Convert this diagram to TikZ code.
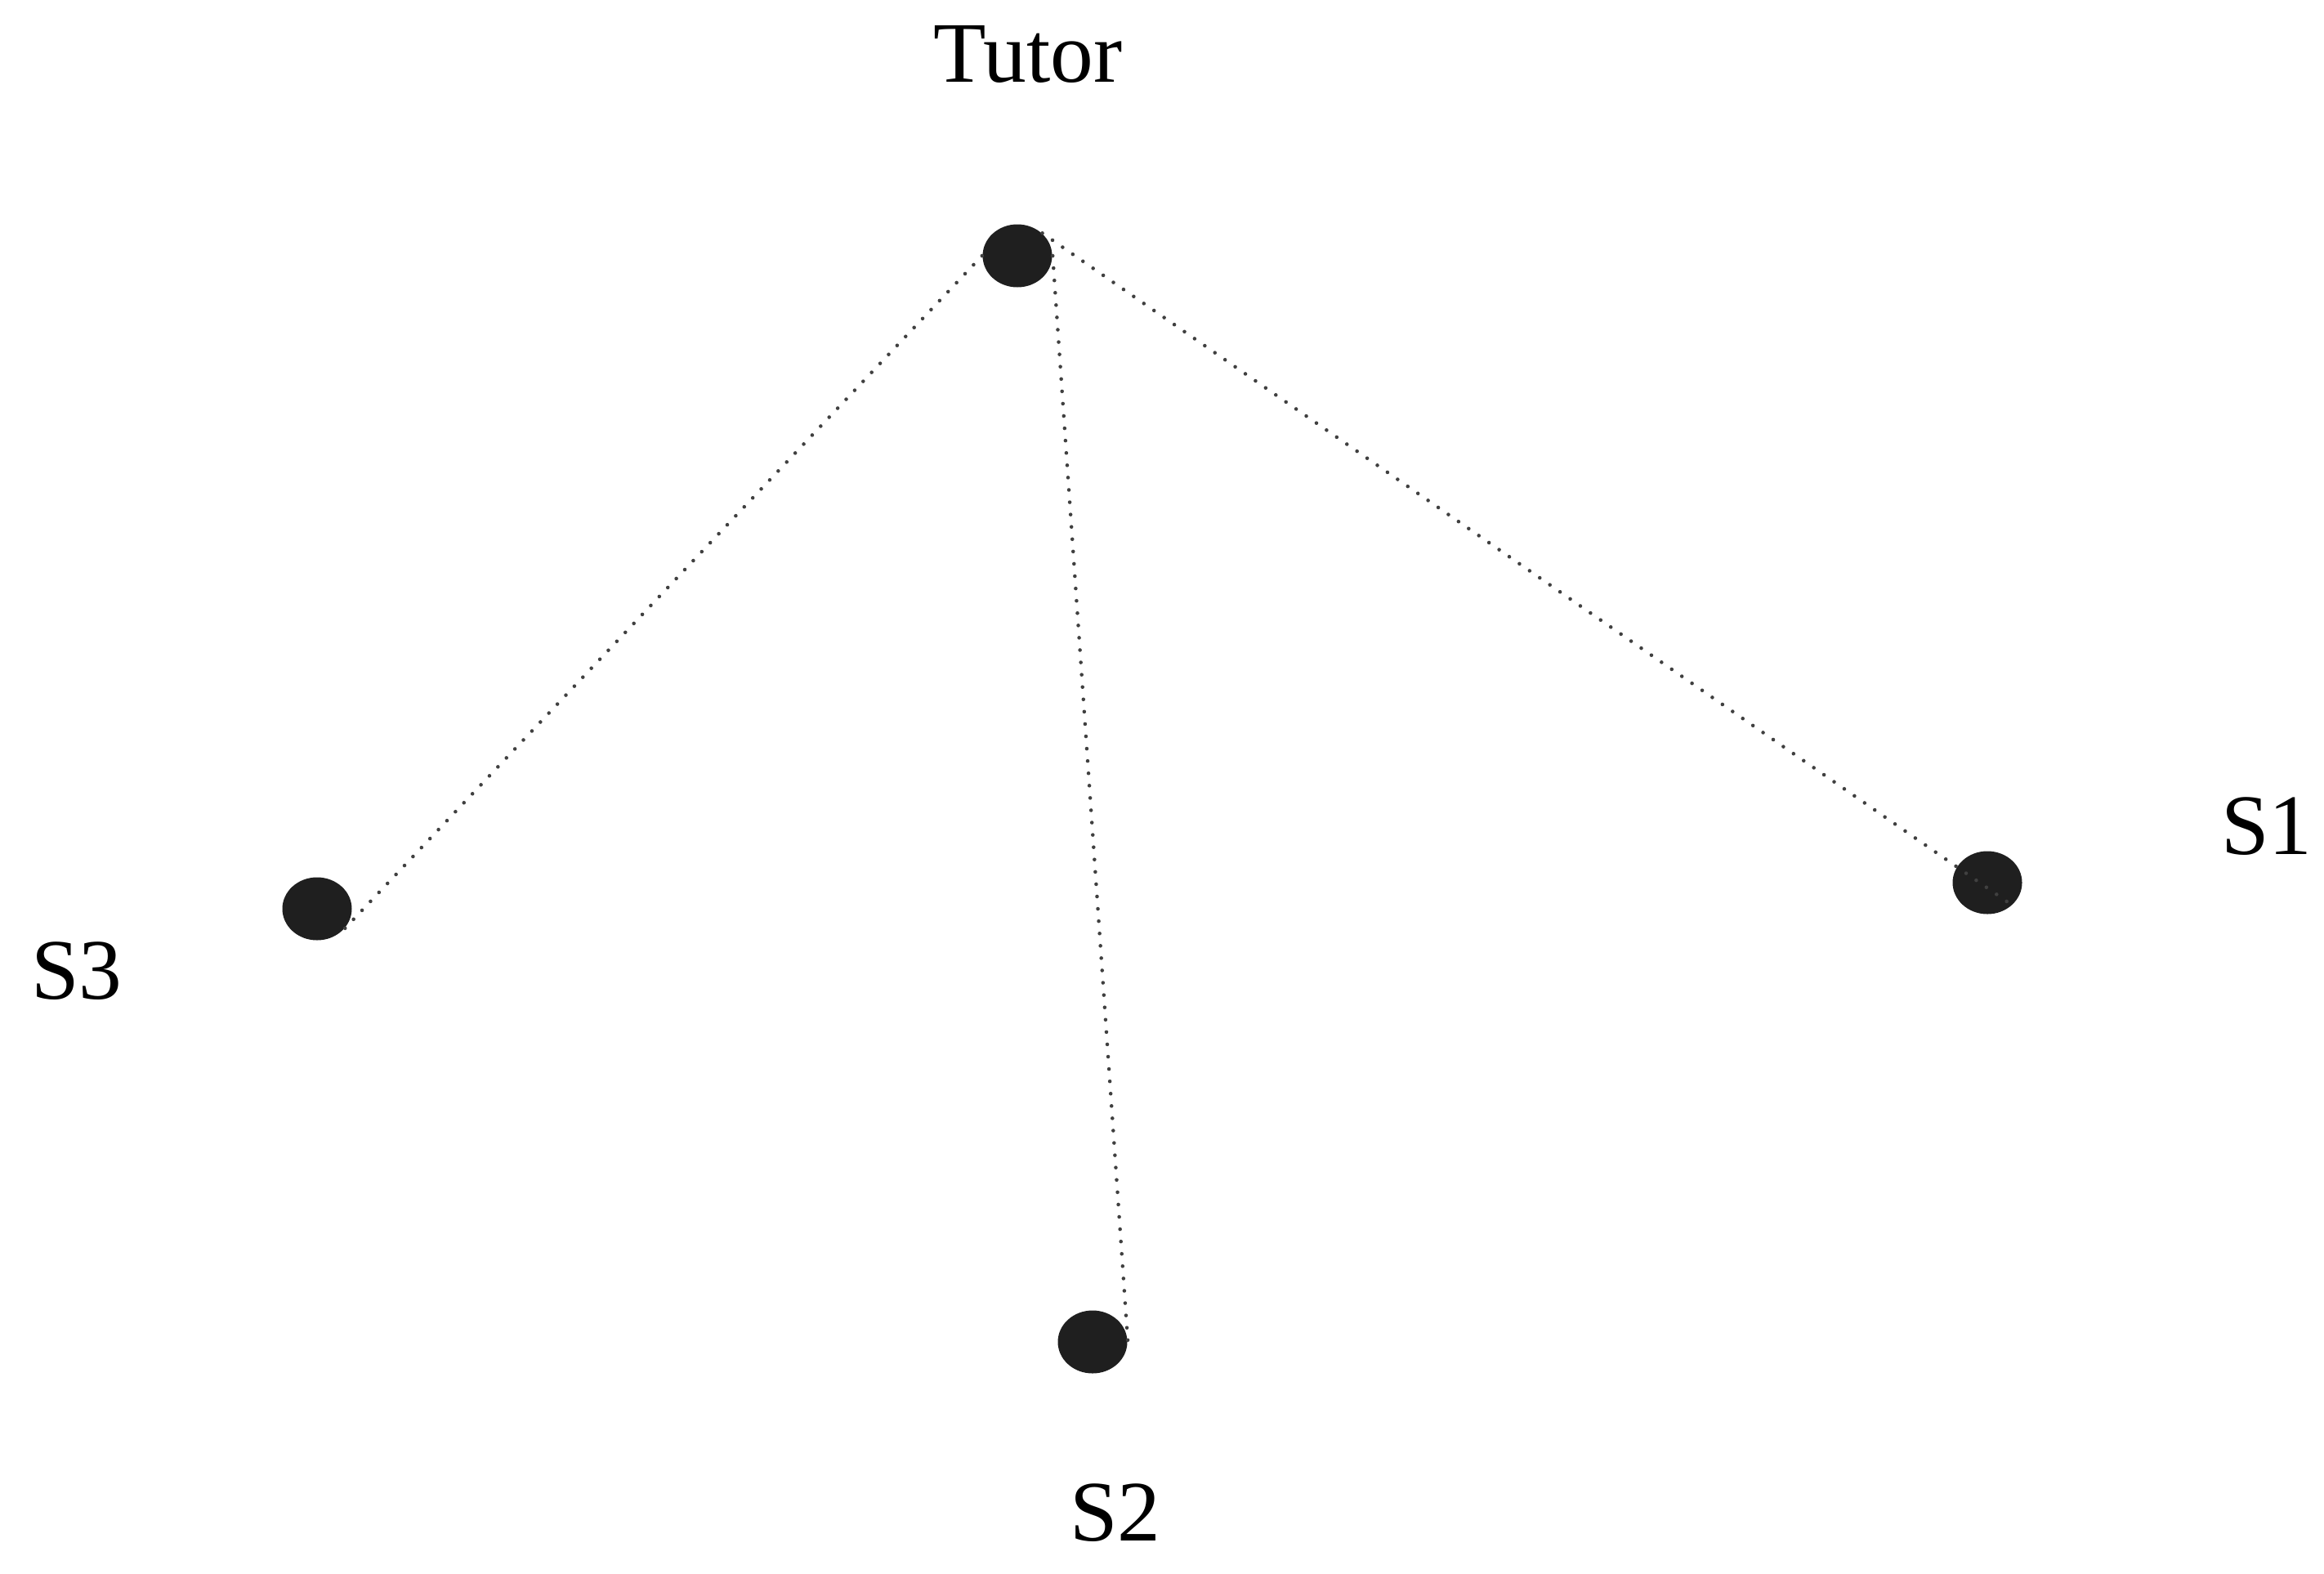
\documentclass[tikz,border=0pt]{standalone}
\usepackage{fontspec}
\setmainfont{Liberation Serif}
\usetikzlibrary{positioning,shapes.geometric}
\tikzset{
  member/.style={draw=none, ellipse, fill=black!88, minimum width=0.85cm, minimum height=0.77cm, inner sep=0pt},
  membername/.style={inner sep=0pt, font=\fontsize{30}{36}\selectfont},
  link/.style={black!75, line width=1.3pt, line cap=round, dash pattern=on 0pt off 4.3pt},
}

\begin{document}
\begin{tikzpicture}[node distance=2cm, on grid]
    \useasboundingbox (0,0) rectangle (28.44,-19.25);
    \node[member] (tutor) at (12.45,-3.13) {};
    \node[member] (s3) at (3.88,-11.12) {};
    \node[member] (s2) at (13.37,-16.42) {};
    \node[member] (s1) at (24.32,-10.80) {};
    \node[membername] (tutorname) [above right=2.47cm and 0.13cm of tutor] {Tutor};
    \node[membername] (s3name) [below left=0.76cm and 2.94cm of s3] {S3};
    \node[membername] (s2name) [below right=2.09cm and 0.28cm of s2] {S2};
    \node[membername] (s1name) [above right=0.69cm and 3.42cm of s1] {S1};
    \draw[link] (tutor.north east) -- (s1.south east);
    \draw[link] (tutor.east) -- (s2.east);
    \draw[link] (tutor.west) -- (s3.south east);
  \end{tikzpicture}
\end{document}
